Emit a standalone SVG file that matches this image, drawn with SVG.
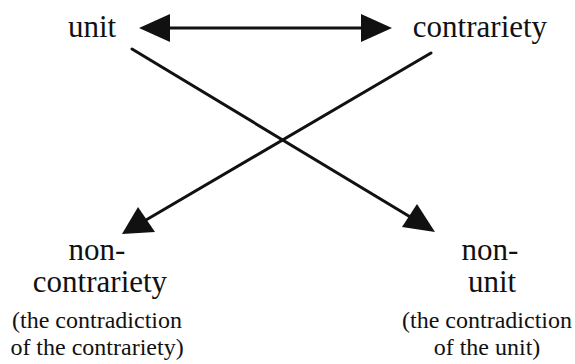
<svg xmlns="http://www.w3.org/2000/svg" width="575" height="364" viewBox="0 0 575 364">
  <style>
    .label { font-size: 31px; }
    .note { font-size: 24px; }
    .edge { stroke: #111; stroke-width: 3; fill: none; stroke-linecap: round; }
    .head { fill: #111; }
  </style>
  <rect width="575" height="364" fill="#fff"/>

  <g font-family="Liberation Serif, DejaVu Serif, serif" fill="#111" text-anchor="middle">
    <g id="unit">
      <text class="label" x="92" y="37">unit</text>
    </g>
    <g id="contrariety">
      <text class="label" x="480" y="37">contrariety</text>
    </g>
    <g id="non-contrariety">
      <text class="label" x="97" y="260">non-</text>
      <text class="label" x="100" y="292">contrariety</text>
      <text class="note" x="97" y="328">(the contradiction</text>
      <text class="note" x="97" y="355">of the contrariety)</text>
    </g>
    <g id="non-unit">
      <text class="label" x="490" y="260">non-</text>
      <text class="label" x="492" y="292">unit</text>
      <text class="note" x="487" y="328">(the contradiction</text>
      <text class="note" x="487" y="355">of the unit)</text>
    </g>
  </g>

  <g id="connectors">
    <!-- unit <-> contrariety -->
    <line class="edge" x1="165" y1="28" x2="365" y2="28"/>
    <polygon class="head" points="139,28 170,14 170,42"/>
    <polygon class="head" points="392,28 361,14 361,42"/>
    <!-- unit -> non-unit -->
    <line class="edge" x1="132" y1="49" x2="412" y2="218"/>
    <polygon class="head" points="435,232 402,227 417,204"/>
    <!-- contrariety -> non-contrariety -->
    <line class="edge" x1="431" y1="53" x2="146" y2="220"/>
    <polygon class="head" points="122,234 138,207 155,232"/>
  </g>
</svg>
